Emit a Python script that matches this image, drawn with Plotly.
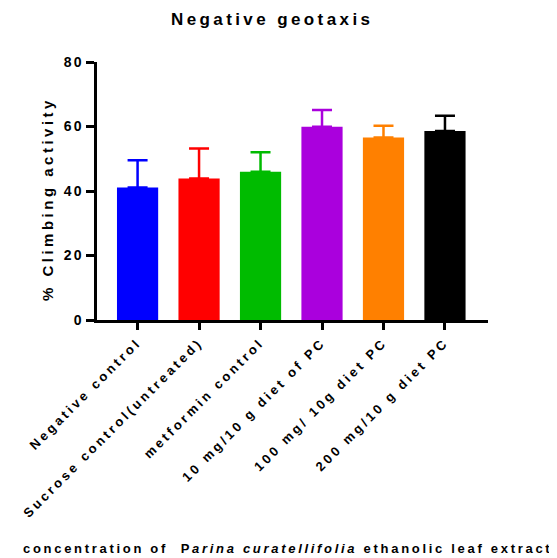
import plotly.graph_objects as go

categories = ["Negative control", "Sucrose control(untreated)", "metformin control",
              "10 mg/10 g diet of PC", "100 mg/ 10g diet PC", "200 mg/10 g diet PC"]
means = [41.1, 43.9, 46.0, 59.9, 56.6, 58.6]
errors = [8.4, 9.3, 6.0, 5.2, 3.6, 4.7]
colors = ["#0000FF", "#FF0000", "#00BB00", "#AA00DD", "#FF8000", "#000000"]
y_ticks = [0, 20, 40, 60, 80]

FONT = "Liberation Sans, Arial, sans-serif"

def spaced(t, px):
    return f'<span style="letter-spacing:{px}px">{t}</span>'

x_idx = list(range(len(categories)))

fig = go.Figure()
for i in x_idx:
    fig.add_trace(go.Bar(
        x=[i], y=[means[i]], width=0.67,
        marker=dict(color=colors[i], line=dict(width=0)),
        error_y=dict(type="data", symmetric=False, array=[errors[i]], arrayminus=[0],
                     color=colors[i], thickness=2.5, width=10),
        showlegend=False,
    ))

fig.update_layout(
    width=549, height=550,
    margin=dict(l=89, r=69, t=54, b=238),
    plot_bgcolor="white", paper_bgcolor="white",
    font=dict(family=FONT, color="black", weight="bold"),
    xaxis=dict(
        range=[-0.66, 5.70], tickmode="array", tickvals=x_idx,
        ticktext=[spaced(c, 3.1) for c in categories],
        tickangle=-45, tickfont=dict(size=13, family=FONT, weight="bold"),
        showline=True, linecolor="black", linewidth=2.5,
        ticks="outside", ticklen=7, tickwidth=2.5, tickcolor="black",
        showgrid=False, zeroline=False,
    ),
    yaxis=dict(
        range=[0, 80], tickmode="array", tickvals=y_ticks,
        ticktext=[spaced(str(v), 2) for v in y_ticks],
        tickfont=dict(size=14, family=FONT, weight="bold"),
        showline=True, linecolor="black", linewidth=2.5,
        ticks="outside", ticklen=8, tickwidth=2.5, tickcolor="black",
        showgrid=False, zeroline=False,
    ),
    annotations=[
        dict(text=spaced("Negative geotaxis", 3.4), x=0.448, y=1.163, xref="paper", yref="paper",
             showarrow=False, font=dict(size=17, family=FONT, weight="bold"),
             xanchor="center", yanchor="middle"),
        dict(text=spaced("% Climbing activity", 3.5), x=-0.125, y=0.469, xref="paper", yref="paper",
             showarrow=False, textangle=-90, font=dict(size=15, family=FONT, weight="bold"),
             xanchor="center", yanchor="middle"),
        dict(text=spaced("concentration of  P<i>arina curatellifolia</i> ethanolic leaf extract", 2.7),
             x=0.488, y=-0.884, xref="paper", yref="paper",
             showarrow=False, font=dict(size=13, family=FONT, weight="bold"),
             xanchor="center", yanchor="middle"),
    ],
)

fig.write_html("out.html")
